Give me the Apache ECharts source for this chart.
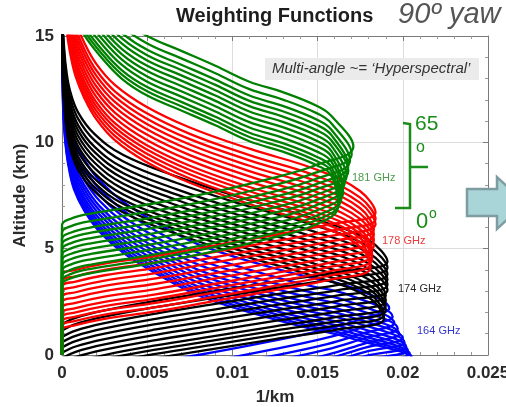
<!DOCTYPE html>
<html>
<head>
<meta charset="utf-8">
<script src="https://cdn.jsdelivr.net/npm/echarts@6/dist/echarts.min.js"></script>
<style>
  html, body { margin: 0; padding: 0; background: #fff; }
  #chart { width: 506px; height: 407px; }
</style>
</head>
<body>
<div id="chart"></div>
<script>
// axis ticks
var xTicks = [0, 0.005, 0.01, 0.015, 0.02, 0.025];
var yTicks = [0, 5, 10, 15];

// 164 GHz: x along each curve (null = peak), peak x per angle, altitudes per angle (0..65 deg)
var x164 = [0.004, 0.008, 0.012, 0.0155, 0.0178, null, 0.0169, 0.0143, 0.0119, 0.008, 0.0056, 0.0036, 0.0022, 0.0013, 0.0007, 0.0004, 0.00022, 0.00012, 0.00006, 0];
var peak164 = [0.0206, 0.0205, 0.0204, 0.0203, 0.0202, 0.0201, 0.0200, 0.0198, 0.0197, 0.0195, 0.0194, 0.0192];
var alt164 = [
    [-2.9, -2.4, -1.8, -1.2, -0.65, -0.2, 0.8, 1.3, 1.8, 2.8, 3.8, 4.8, 5.8, 6.8, 7.8, 8.8, 9.8, 10.8, 11.8, 16],
    [-2.78, -2.28, -1.68, -1.08, -0.53, -0.08, 0.92, 1.42, 1.92, 2.92, 3.92, 4.92, 5.92, 6.92, 7.92, 8.92, 9.92, 10.92, 11.92, 16.12],
    [-2.64, -2.14, -1.54, -0.94, -0.39, 0.06, 1.06, 1.56, 2.06, 3.06, 4.06, 5.06, 6.06, 7.06, 8.06, 9.06, 10.06, 11.06, 12.06, 16.26],
    [-2.48, -1.98, -1.38, -0.78, -0.23, 0.22, 1.22, 1.72, 2.22, 3.22, 4.22, 5.22, 6.22, 7.22, 8.22, 9.22, 10.22, 11.22, 12.22, 16.42],
    [-2.3, -1.8, -1.2, -0.6, -0.05, 0.4, 1.4, 1.9, 2.4, 3.4, 4.4, 5.4, 6.4, 7.4, 8.4, 9.4, 10.4, 11.4, 12.4, 16.6],
    [-2.1, -1.6, -1.0, -0.4, 0.15, 0.6, 1.6, 2.1, 2.6, 3.6, 4.6, 5.6, 6.6, 7.6, 8.6, 9.6, 10.6, 11.6, 12.6, 16.8],
    [-1.9, -1.4, -0.8, -0.2, 0.35, 0.8, 1.8, 2.3, 2.8, 3.8, 4.8, 5.8, 6.8, 7.8, 8.8, 9.8, 10.8, 11.8, 12.8, 17],
    [-1.7, -1.2, -0.6, 0, 0.55, 1.0, 2.0, 2.5, 3.0, 4.0, 5.0, 6.0, 7.0, 8.0, 9.0, 10.0, 11.0, 12.0, 13.0, 17.2],
    [-1.45, -0.95, -0.35, 0.25, 0.8, 1.25, 2.25, 2.75, 3.25, 4.25, 5.25, 6.25, 7.25, 8.25, 9.25, 10.25, 11.25, 12.25, 13.25, 17.45],
    [-1.2, -0.7, -0.1, 0.5, 1.05, 1.5, 2.5, 3.0, 3.5, 4.5, 5.5, 6.5, 7.5, 8.5, 9.5, 10.5, 11.5, 12.5, 13.5, 17.7],
    [-0.9, -0.4, 0.2, 0.8, 1.35, 1.8, 2.8, 3.3, 3.8, 4.8, 5.8, 6.8, 7.8, 8.8, 9.8, 10.8, 11.8, 12.8, 13.8, 18],
    [-0.5, 0, 0.6, 1.2, 1.75, 2.2, 3.2, 3.7, 4.2, 5.2, 6.2, 7.2, 8.2, 9.2, 10.2, 11.2, 12.2, 13.2, 14.2, 18.4]
];

// 174 GHz
var x174 = [0, 0.0008, 0.0025, 0.0055, 0.009, 0.0125, 0.0162, null, 0.018, 0.0148, 0.0105, 0.0067, 0.0036, 0.0019, 0.00095, 0.00048, 0.00025, 0.00013, 0.00006, 0];
var peak174 = [0.0189, 0.0189, 0.019, 0.019, 0.019, 0.019, 0.0191, 0.0191, 0.0191, 0.0191, 0.0191, 0.0191];
var alt174 = [
    [-1.25, -0.95, -0.6, -0.15, 0.3, 0.75, 1.2, 1.7, 2.7, 3.7, 4.7, 5.7, 6.7, 7.7, 8.7, 9.7, 10.7, 11.7, 12.7, 16],
    [-1.05, -0.75, -0.4, 0.05, 0.5, 0.95, 1.4, 1.9, 2.9, 3.9, 4.9, 5.9, 6.9, 7.9, 8.9, 9.9, 10.9, 11.9, 12.9, 16.2],
    [-0.85, -0.55, -0.2, 0.25, 0.7, 1.15, 1.6, 2.1, 3.1, 4.1, 5.1, 6.1, 7.1, 8.1, 9.1, 10.1, 11.1, 12.1, 13.1, 16.4],
    [-0.65, -0.35, 0, 0.45, 0.9, 1.35, 1.8, 2.3, 3.3, 4.3, 5.3, 6.3, 7.3, 8.3, 9.3, 10.3, 11.3, 12.3, 13.3, 16.6],
    [-0.4, -0.1, 0.25, 0.7, 1.15, 1.6, 2.05, 2.55, 3.55, 4.55, 5.55, 6.55, 7.55, 8.55, 9.55, 10.55, 11.55, 12.55, 13.55, 16.85],
    [-0.15, 0.15, 0.5, 0.95, 1.4, 1.85, 2.3, 2.8, 3.8, 4.8, 5.8, 6.8, 7.8, 8.8, 9.8, 10.8, 11.8, 12.8, 13.8, 17.1],
    [0.1, 0.4, 0.75, 1.2, 1.65, 2.1, 2.55, 3.05, 4.05, 5.05, 6.05, 7.05, 8.05, 9.05, 10.05, 11.05, 12.05, 13.05, 14.05, 17.35],
    [0.35, 0.65, 1.0, 1.45, 1.9, 2.35, 2.8, 3.3, 4.3, 5.3, 6.3, 7.3, 8.3, 9.3, 10.3, 11.3, 12.3, 13.3, 14.3, 17.6],
    [0.6, 0.9, 1.25, 1.7, 2.15, 2.6, 3.05, 3.55, 4.55, 5.55, 6.55, 7.55, 8.55, 9.55, 10.55, 11.55, 12.55, 13.55, 14.55, 17.85],
    [0.85, 1.15, 1.5, 1.95, 2.4, 2.85, 3.3, 3.8, 4.8, 5.8, 6.8, 7.8, 8.8, 9.8, 10.8, 11.8, 12.8, 13.8, 14.8, 18.1],
    [1.15, 1.45, 1.8, 2.25, 2.7, 3.15, 3.6, 4.1, 5.1, 6.1, 7.1, 8.1, 9.1, 10.1, 11.1, 12.1, 13.1, 14.1, 15.1, 18.4],
    [1.45, 1.75, 2.1, 2.55, 3.0, 3.45, 3.9, 4.4, 5.4, 6.4, 7.4, 8.4, 9.4, 10.4, 11.4, 12.4, 13.4, 14.4, 15.4, 18.7]
];

// 178 GHz
var x178 = [0, 0, 0.0008, 0.0025, 0.0055, 0.009, 0.0125, 0.0158, null, 0.0175, 0.015, 0.011, 0.0075, 0.0049, 0.0031, 0.002, 0.0013, 0.0008, 0.0005, 0.0003];
var peak178 = [0.0181, 0.0181, 0.0182, 0.0182, 0.0182, 0.0183, 0.0183, 0.0183, 0.0183, 0.0184, 0.0184, 0.0184];
var alt178 = [
    [0, 1.15, 1.4, 1.7, 2.05, 2.55, 3.05, 3.55, 4.1, 5.1, 6.1, 7.1, 8.1, 9.1, 10.1, 11.1, 12.1, 13.1, 14.1, 15.1],
    [0, 1.35, 1.6, 1.9, 2.25, 2.75, 3.25, 3.75, 4.3, 5.3, 6.3, 7.3, 8.3, 9.3, 10.3, 11.3, 12.3, 13.3, 14.3, 15.3],
    [0, 1.55, 1.8, 2.1, 2.45, 2.95, 3.45, 3.95, 4.5, 5.5, 6.5, 7.5, 8.5, 9.5, 10.5, 11.5, 12.5, 13.5, 14.5, 15.5],
    [0, 1.75, 2.0, 2.3, 2.65, 3.15, 3.65, 4.15, 4.7, 5.7, 6.7, 7.7, 8.7, 9.7, 10.7, 11.7, 12.7, 13.7, 14.7, 15.7],
    [0, 1.95, 2.2, 2.5, 2.85, 3.35, 3.85, 4.35, 4.9, 5.9, 6.9, 7.9, 8.9, 9.9, 10.9, 11.9, 12.9, 13.9, 14.9, 15.9],
    [0, 2.2, 2.45, 2.75, 3.1, 3.6, 4.1, 4.6, 5.15, 6.15, 7.15, 8.15, 9.15, 10.15, 11.15, 12.15, 13.15, 14.15, 15.15, 16.15],
    [0, 2.45, 2.7, 3.0, 3.35, 3.85, 4.35, 4.85, 5.4, 6.4, 7.4, 8.4, 9.4, 10.4, 11.4, 12.4, 13.4, 14.4, 15.4, 16.4],
    [0, 2.7, 2.95, 3.25, 3.6, 4.1, 4.6, 5.1, 5.65, 6.65, 7.65, 8.65, 9.65, 10.65, 11.65, 12.65, 13.65, 14.65, 15.65, 16.65],
    [0, 2.95, 3.2, 3.5, 3.85, 4.35, 4.85, 5.35, 5.9, 6.9, 7.9, 8.9, 9.9, 10.9, 11.9, 12.9, 13.9, 14.9, 15.9, 16.9],
    [0, 3.2, 3.45, 3.75, 4.1, 4.6, 5.1, 5.6, 6.15, 7.15, 8.15, 9.15, 10.15, 11.15, 12.15, 13.15, 14.15, 15.15, 16.15, 17.15],
    [0, 3.45, 3.7, 4.0, 4.35, 4.85, 5.35, 5.85, 6.4, 7.4, 8.4, 9.4, 10.4, 11.4, 12.4, 13.4, 14.4, 15.4, 16.4, 17.4],
    [0, 3.75, 4.0, 4.3, 4.65, 5.15, 5.65, 6.15, 6.7, 7.7, 8.7, 9.7, 10.7, 11.7, 12.7, 13.7, 14.7, 15.7, 16.7, 17.7]
];

// 181 GHz
var x181 = [0, 0, 0.0005, 0.0017, 0.0052, 0.0085, 0.012, 0.0148, null, 0.0158, 0.015, 0.013, 0.011, 0.009, 0.007, 0.005, 0.0035, 0.0022, 0.0013, 0.0008];
var peak181 = [0.0162, 0.0163, 0.0164, 0.0165, 0.0165, 0.0166, 0.0167, 0.0168, 0.0168, 0.0169, 0.017, 0.0171];
var alt181 = [
    [0, 3.3, 3.6, 3.85, 4.3, 4.8, 5.45, 6.1, 7.0, 8.45, 8.9, 9.55, 10.05, 10.8, 11.5, 12.2, 13.0, 14.1, 15.05, 15.9],
    [0, 3.5, 3.8, 4.05, 4.5, 5.0, 5.65, 6.3, 7.2, 8.65, 9.1, 9.75, 10.25, 11.0, 11.7, 12.4, 13.2, 14.3, 15.25, 16.1],
    [0, 3.7, 4.0, 4.25, 4.7, 5.2, 5.85, 6.5, 7.4, 8.85, 9.3, 9.95, 10.45, 11.2, 11.9, 12.6, 13.4, 14.5, 15.45, 16.3],
    [0, 3.95, 4.25, 4.5, 4.95, 5.45, 6.1, 6.75, 7.65, 9.1, 9.55, 10.2, 10.7, 11.45, 12.15, 12.85, 13.65, 14.75, 15.7, 16.55],
    [0, 4.2, 4.5, 4.75, 5.2, 5.7, 6.35, 7.0, 7.9, 9.35, 9.8, 10.45, 10.95, 11.7, 12.4, 13.1, 13.9, 15.0, 15.95, 16.8],
    [0, 4.45, 4.75, 5.0, 5.45, 5.95, 6.6, 7.25, 8.15, 9.6, 10.05, 10.7, 11.2, 11.95, 12.65, 13.35, 14.15, 15.25, 16.2, 17.05],
    [0, 4.7, 5.0, 5.25, 5.7, 6.2, 6.85, 7.5, 8.4, 9.85, 10.3, 10.95, 11.45, 12.2, 12.9, 13.6, 14.4, 15.5, 16.45, 17.3],
    [0, 4.95, 5.25, 5.5, 5.95, 6.45, 7.1, 7.75, 8.65, 10.1, 10.55, 11.2, 11.7, 12.45, 13.15, 13.85, 14.65, 15.75, 16.7, 17.55],
    [0, 5.2, 5.5, 5.75, 6.2, 6.7, 7.35, 8.0, 8.9, 10.35, 10.8, 11.45, 11.95, 12.7, 13.4, 14.1, 14.9, 16.0, 16.95, 17.8],
    [0, 5.45, 5.75, 6.0, 6.45, 6.95, 7.6, 8.25, 9.15, 10.6, 11.05, 11.7, 12.2, 12.95, 13.65, 14.35, 15.15, 16.25, 17.2, 18.05],
    [0, 5.75, 6.05, 6.3, 6.75, 7.25, 7.9, 8.55, 9.45, 10.9, 11.35, 12.0, 12.5, 13.25, 13.95, 14.65, 15.45, 16.55, 17.5, 18.35],
    [0, 6.1, 6.4, 6.65, 7.1, 7.6, 8.25, 8.9, 9.8, 11.25, 11.7, 12.35, 12.85, 13.6, 14.3, 15.0, 15.8, 16.9, 17.85, 18.7]
];

var font = '"Liberation Sans", Arial, sans-serif';

var buildSeries = function (name, color, xs, peaks, alts) {
    var list = [];
    for (var k = 0; k < alts.length; k++) {
        var data = [];
        for (var i = 0; i < xs.length; i++) {
            data.push([xs[i] === null ? peaks[k] : xs[i], alts[k][i]]);
        }
        list.push({
            name: name,
            type: 'line',
            data: data,
            smooth: 0.4,
            symbol: 'none',
            clip: true,
            silent: true,
            lineStyle: { color: color, width: 2.3 }
        });
    }
    return list;
};

var series = []
    .concat(buildSeries('164 GHz', '#0000ff', x164, peak164, alt164))
    .concat(buildSeries('174 GHz', '#000000', x174, peak174, alt174))
    .concat(buildSeries('178 GHz', '#ff0000', x178, peak178, alt178))
    .concat(buildSeries('181 GHz', '#008000', x181, peak181, alt181));

var frame = '#7a7a7a';
var axisBase = function (pos, isX, main) {
    var ticks = isX ? xTicks : yTicks;
    return {
        type: 'value',
        position: pos,
        min: ticks[0],
        max: ticks[ticks.length - 1],
        interval: ticks[1] - ticks[0],
        axisLine: { show: true, onZero: false, lineStyle: { color: frame, width: 1 } },
        axisTick: { show: true, inside: true, length: 5, lineStyle: { color: frame } },
        minorTick: { show: true, splitNumber: 5, length: 3, lineStyle: { color: '#999' } },
        splitLine: { show: main, lineStyle: { color: '#dcdcdc', width: 1 } },
        axisLabel: {
            show: main,
            fontSize: 17,
            fontWeight: 'bold',
            fontFamily: font,
            color: '#2a2a2a',
            margin: isX ? 10 : 8
        }
    };
};

var xBottom = axisBase('bottom', true, true);
xBottom.name = '1/km';
xBottom.nameLocation = 'middle';
xBottom.nameGap = 34;
xBottom.nameMoveOverlap = false;
xBottom.nameTextStyle = { fontSize: 17, fontWeight: 'bold', fontFamily: font, color: '#2a2a2a' };
var yLeft = axisBase('left', false, true);
yLeft.name = 'Altitude (km)';
yLeft.nameLocation = 'middle';
yLeft.nameGap = 33;
yLeft.nameMoveOverlap = false;
yLeft.nameTextStyle = { fontSize: 17, fontWeight: 'bold', fontFamily: font, color: '#2a2a2a' };

var green = '#1a8c1a';
var chart = echarts.init(document.getElementById('chart'), null, { renderer: 'canvas' });
chart.setOption({
    animation: false,
    backgroundColor: '#ffffff',
    grid: { left: 62, right: 18, top: 36, bottom: 52, containLabel: false, outerBoundsMode: 'none' },
    xAxis: [xBottom, axisBase('top', true, false)],
    yAxis: [yLeft, axisBase('right', false, false)],
    series: series,
    graphic: [
        { type: 'text', left: 176, top: 6, z: 10, style: { text: 'Weighting Functions', font: 'bold 20px ' + font, fill: '#1e1e1e' } },
        { type: 'text', left: 398, top: 0, z: 10, style: { text: '90º yaw', font: 'italic 29px ' + font, fill: '#555555' } },
        { type: 'rect', shape: { x: 265, y: 58, width: 214, height: 22 }, z: 10, style: { fill: '#ebebeb' } },
        { type: 'text', left: 272, top: 61, z: 11, style: { text: 'Multi-angle ~= \u2018Hyperspectral\u2019', font: 'italic 15px ' + font, fill: '#333333' } },
        { type: 'text', left: 352, top: 172, z: 10, style: { text: '181 GHz', font: '11px ' + font, fill: '#4c9c4c' } },
        { type: 'text', left: 382, top: 235, z: 10, style: { text: '178 GHz', font: '11px ' + font, fill: '#e83c3c' } },
        { type: 'text', left: 398, top: 283, z: 10, style: { text: '174 GHz', font: '11px ' + font, fill: '#2a2a2a' } },
        { type: 'text', left: 417, top: 325, z: 10, style: { text: '164 GHz', font: '11px ' + font, fill: '#3434cc' } },
        {
            type: 'polyline', z: 10,
            shape: { points: [[403, 123], [410, 124], [410, 208], [395, 208]] },
            style: { stroke: green, lineWidth: 2.5, fill: null }
        },
        { type: 'line', z: 10, shape: { x1: 410, y1: 167, x2: 428, y2: 167 }, style: { stroke: green, lineWidth: 2.5 } },
        { type: 'text', left: 415, top: 114, z: 10, style: { text: '65', font: '21px ' + font, fill: green } },
        { type: 'text', left: 416, top: 140, z: 10, style: { text: 'o', font: '16px ' + font, fill: green } },
        { type: 'text', left: 416, top: 211, z: 10, style: { text: '0', font: '22px ' + font, fill: green } },
        { type: 'text', left: 429, top: 207, z: 10, style: { text: 'o', font: '14px ' + font, fill: green } },
        {
            type: 'polygon', z: 10,
            shape: { points: [[467, 189], [497, 189], [497, 177], [525, 203], [497, 229], [497, 216], [467, 216]] },
            style: { fill: '#a9d4d8', stroke: '#7f9da1', lineWidth: 2.5 }
        }
    ]
});
</script>
</body>
</html>
